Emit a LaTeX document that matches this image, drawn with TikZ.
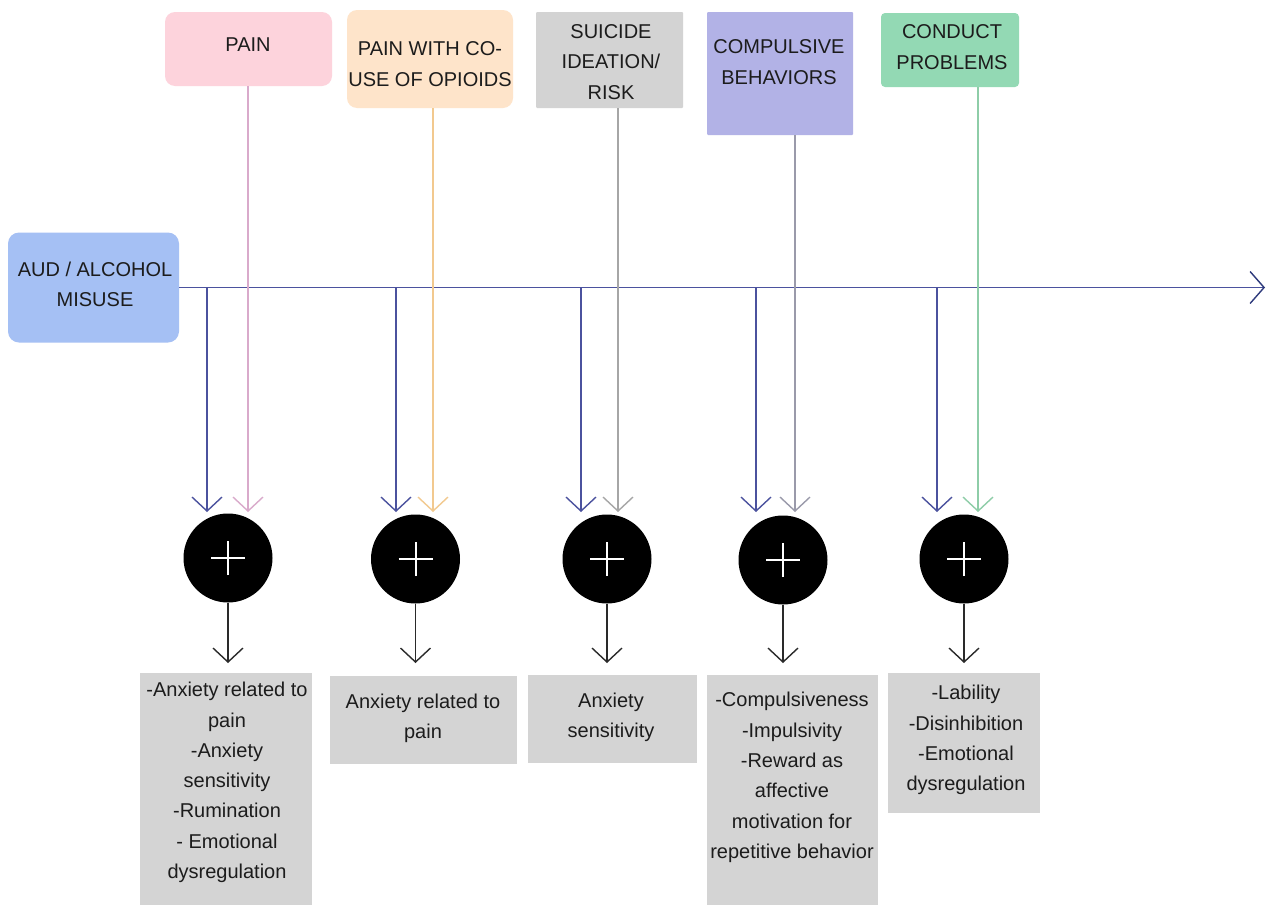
\documentclass[tikz,border=0pt]{standalone}
\usepackage{fontspec}
\setmainfont{Liberation Sans}
\usetikzlibrary{arrows.meta}
\definecolor{pinkbox}{HTML}{FDD3DC}
\definecolor{peachbox}{HTML}{FEE4CA}
\definecolor{greybox}{HTML}{D3D3D3}
\definecolor{lavbox}{HTML}{B2B2E6}
\definecolor{greenbox}{HTML}{93D9B4}
\definecolor{bluebox}{HTML}{A5C0F4}
\definecolor{botbox}{HTML}{D4D4D4}
\definecolor{navyline}{HTML}{4B529E}
\definecolor{navytip}{HTML}{2E3A7C}
\definecolor{pinkline}{HTML}{D9AACB}
\definecolor{peachline}{HTML}{F2C98F}
\definecolor{greyline}{HTML}{A6A6A6}
\definecolor{lavline}{HTML}{9A9AAA}
\definecolor{greenline}{HTML}{8ECDA8}
\definecolor{textc}{HTML}{1C1C1C}
\definecolor{downc}{HTML}{2A2A2A}
\begin{document}
\begin{tikzpicture}[x=1pt,y=-1pt,
  boxshape/.style={inner sep=0pt, outer sep=0pt, draw=none},
  txt/.style={font=\fontsize{20}{30.3}\selectfont, align=center, text=textc, inner sep=0pt},
  barb/.style={-{Straight Barb[length=14pt,width=30pt]}, line width=1.4pt},
  navyarrow/.style={barb, draw=navyline},
  plusnode/.style={circle, fill=black, minimum size=89pt, inner sep=0pt,
    path picture={\draw[white, line width=2pt]
      ([xshift=-17pt]path picture bounding box.center) -- ([xshift=17pt]path picture bounding box.center)
      ([yshift=-17pt]path picture bounding box.center) -- ([yshift=17pt]path picture bounding box.center);}},
  downarrow/.style={barb, draw=downc}
]
\useasboundingbox (0,0) rectangle (1269,905);
\fill[white] (0,0) rectangle (1269,905);

% top boxes
\node[boxshape, fill=pinkbox, minimum width=167pt, minimum height=74pt, rounded corners=10pt] (pain) at (248.5,49) {};
\node[boxshape, fill=peachbox, minimum width=166pt, minimum height=98pt, rounded corners=10pt] (opi) at (430,59) {};
\node[boxshape, fill=greybox, minimum width=147pt, minimum height=96pt, rounded corners=1pt] (sui) at (609.5,60) {};
\node[boxshape, fill=lavbox, minimum width=146pt, minimum height=123pt, rounded corners=1pt] (comp) at (780,73.5) {};
\node[boxshape, fill=greenbox, minimum width=138pt, minimum height=74pt, rounded corners=4pt] (cond) at (950,50) {};

\node[txt] (tpain) at (248,45) {PAIN};
\node[txt] (topi) at (430,64) {PAIN WITH CO-\\USE OF OPIOIDS};
\node[txt] (tsui) at (611,62) {SUICIDE\\IDEATION/\\RISK};
\node[txt] (tcomp) at (779,62) {COMPULSIVE\\BEHAVIORS};
\node[txt] (tcond) at (952,47) {CONDUCT\\PROBLEMS};

% AUD box
\node[boxshape, fill=bluebox, minimum width=171pt, minimum height=110pt, rounded corners=11pt] (aud) at (93.5,287.5) {};
\node[txt] (taud) at (95,284.5) {AUD / ALCOHOL\\MISUSE};

% main line
\coordinate (mlend) at (1265,287.5);
\draw[line width=1.4pt, draw=navyline, -{Straight Barb[length=14pt,width=32pt,color=navytip]}] (aud.east) -- (mlend);

% circles
\node[plusnode] (c1) at (228,558) {};
\node[plusnode] (c2) at (415.5,559) {};
\node[plusnode] (c3) at (607,559) {};
\node[plusnode] (c4) at (783,560) {};
\node[plusnode] (c5) at (964,559) {};

% coordinates on main line
\coordinate (m1) at (207,287.5);
\coordinate (m2) at (396,287.5);
\coordinate (m3) at (581,287.5);
\coordinate (m4) at (756,287.5);
\coordinate (m5) at (937,287.5);
% arrow ends above circles
\coordinate (e1) at (207,512);
\coordinate (e2) at (396,512);
\coordinate (e3) at (581,512);
\coordinate (e4) at (756,512);
\coordinate (e5) at (937,512);
\coordinate (f1) at (248,512);
\coordinate (f2) at (433,512);
\coordinate (f3) at (618,512);
\coordinate (f4) at (795,512);
\coordinate (f5) at (978,512);

\draw[navyarrow] (m1) -- (e1);
\draw[navyarrow] (m2) -- (e2);
\draw[navyarrow] (m3) -- (e3);
\draw[navyarrow] (m4) -- (e4);
\draw[navyarrow] (m5) -- (e5);

\draw[barb, draw=pinkline] (pain.south -| f1) -- (f1);
\draw[barb, draw=peachline] (opi.south -| f2) -- (f2);
\draw[barb, draw=greyline] (sui.south -| f3) -- (f3);
\draw[barb, draw=lavline] (comp.south -| f4) -- (f4);
\draw[barb, draw=greenline] (cond.south -| f5) -- (f5);

% bottom boxes
\node[boxshape, fill=botbox, minimum width=172pt, minimum height=232pt] (b1) at (226,789) {};
\node[boxshape, fill=botbox, minimum width=187pt, minimum height=88pt] (b2) at (423.5,720) {};
\node[boxshape, fill=botbox, minimum width=169pt, minimum height=88pt] (b3) at (612.5,719) {};
\node[boxshape, fill=botbox, minimum width=171pt, minimum height=230pt] (b4) at (792.5,790) {};
\node[boxshape, fill=botbox, minimum width=152pt, minimum height=140pt] (b5) at (964,743) {};

\node[txt] (tb1) at (227,782.5) {-Anxiety related to\\pain\\-Anxiety\\sensitivity\\-Rumination\\- Emotional\\dysregulation};
\node[txt] (tb2) at (423,718) {Anxiety related to\\pain};
\node[txt] (tb3) at (611,717) {Anxiety\\sensitivity};
\node[txt] (tb4) at (792,777.5) {-Compulsiveness\\-Impulsivity\\-Reward as\\affective\\motivation for\\repetitive behavior};
\node[txt] (tb5) at (966,740) {-Lability\\-Disinhibition\\-Emotional\\dysregulation};

% down arrows
\coordinate (d1) at (228,663);
\coordinate (d2) at (415.5,663);
\coordinate (d3) at (607,663);
\coordinate (d4) at (783,663);
\coordinate (d5) at (964,663);
\draw[downarrow] (c1.south) -- (d1);
\draw[downarrow] (c2.south) -- (d2);
\draw[downarrow] (c3.south) -- (d3);
\draw[downarrow] (c4.south) -- (d4);
\draw[downarrow] (c5.south) -- (d5);
\end{tikzpicture}
\end{document}
